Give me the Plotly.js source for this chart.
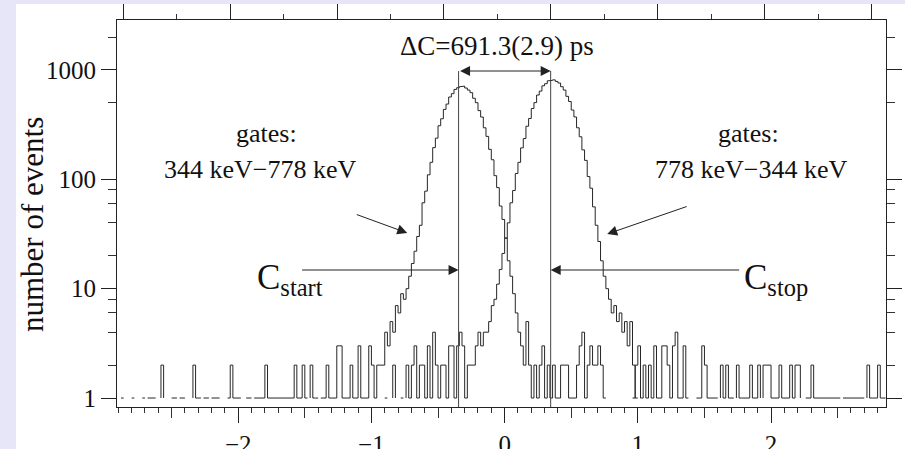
<!DOCTYPE html>
<html>
<head>
<meta charset="utf-8">
<script src="https://cdn.plot.ly/plotly-3.0.1.min.js"></script>
<style>html,body{margin:0;padding:0;background:#e8e8f8;}#chart{width:905px;height:449px;}</style>
</head>
<body>
<div id="chart"></div>
<script>
// ---- data (bin width 0.02 ns) ----
const binWidth = 0.02;
// gate 344 keV - 778 keV (left peak), bins starting at -2.90 ns
const startA = -2.90;
const countsA = [
  0,1,0,0,0,1,0,0,0,1,
  0,1,1,1,0,0,2,0,0,0,
  1,1,0,1,1,0,0,0,2,1,
  1,0,1,1,0,1,1,1,0,0,
  0,1,2,1,1,1,0,0,1,1,
  0,1,1,1,1,2,1,1,1,1,
  1,1,1,1,1,1,2,1,1,2,
  1,0,2,1,1,0,1,1,2,1,
  1,1,3,3,1,1,1,2,1,1,
  3,1,1,1,3,2,1,2,2,2,
  4,3,5,4,7,6,9,8,10,13,
  17,22,30,38,61,78,110,143,195,238,
  309,358,436,488,566,607,664,688,702,712,
  684,655,620,551,502,425,371,296,247,188,
  151,108,84,57,43,29,18,13,9,6,
  4,3,2,5,2,1,2,1,2,3,
  1,2,1,2,1,1,2,2,2,1,
  1,1,2,3,4,1,2,3,2,2,
  3,2,1,0,0,0,0,0,0,0,
  0,0,0,1,2,3,1,2,1,2,
  1,3,1,1,3,3,2,1,3,4,
  1,1,3,1,0,0,0,1,1,3,
  2,1,1,1,1,0,2,1,2,1,
  1,0,2,1,1,1,1,2,1,1,
  2,0,2,2,2,1,1,1,2,1,
  1,1,2,1,2,2,0,0,1,1,
  2,1,1,1,1,1,1,1,1,1,
  1,0,1,1,1,1,1,1,1,1,
  0,2,1,1,1,2,1,1,0,0
];
// gate 778 keV - 344 keV (right peak), bins starting at -0.90 ns
const startB = -0.90;
const countsB = [
  1,0,0,2,0,0,1,0,2,1,
  2,3,1,2,2,1,3,1,4,2,
  1,2,2,1,3,3,1,3,4,3,
  1,2,2,2,3,4,3,4,4,5,
  7,8,11,15,21,29,40,61,79,113,
  143,194,236,306,360,444,503,590,641,716,
  749,795,803,812,786,760,703,655,574,515,
  430,372,296,245,186,149,106,83,56,38,
  27,18,13,10,8,6,7,5,6,4,
  5,3,5,2,1,0,0,0,0,0
];
const markerTimes = [-0.3456, 0.3456];
const yTickVals = [1, 10, 100, 1000];
const yTickText = ['1', '10', '100', '1000'];
const yMinorVals = [2, 4, 6, 8, 20, 40, 60, 80, 500, 2000];

function stepPath(start, w, counts) {
  const xs = [], ys = [];
  const n = counts.length;
  for (let i = 0; i < n; i++) {
    const c = counts[i];
    if (!(c > 0)) continue;
    const x0 = start + w * i, x1 = start + w * (i + 1);
    const prev = i > 0 ? counts[i - 1] : 0;
    const next = i < n - 1 ? counts[i + 1] : 0;
    if (!(prev > 0)) { xs.push(x0); ys.push(1); }
    xs.push(x0); ys.push(c); xs.push(x1); ys.push(c);
    if (!(next > 0)) { xs.push(x1); ys.push(1); xs.push(null); ys.push(null); }
  }
  return {xs, ys};
}

const pA = stepPath(startA, binWidth, countsA);
const pB = stepPath(startB, binWidth, countsB);
const lineStyle = {color: '#262626', width: 1};
const serif = 'Liberation Serif, Times New Roman, serif';

const traces = [
  {x: pA.xs, y: pA.ys, type: 'scatter', mode: 'lines', line: lineStyle, connectgaps: false, hoverinfo: 'skip', showlegend: false},
  {x: pB.xs, y: pB.ys, type: 'scatter', mode: 'lines', line: lineStyle, connectgaps: false, hoverinfo: 'skip', showlegend: false},
  {x: [], y: [], type: 'scatter', xaxis: 'x2', yaxis: 'y', showlegend: false, hoverinfo: 'skip'},
  {x: [], y: [], type: 'scatter', xaxis: 'x3', yaxis: 'y', showlegend: false, hoverinfo: 'skip'}
];

const L = 117, R = 886, T = 20, B = 407;
const py = p => (B - p) / (B - T);
const px = p => (p - L) / (R - L);

const xr = [-2.91, 2.863];
const txt = (text, x, yPix, size, xref) => ({
  text: text, x: x, y: py(yPix), xref: xref || 'x', yref: 'paper', showarrow: false,
  xanchor: 'center', yanchor: 'middle', font: {family: serif, size: size, color: '#111'}
});
const arrow = (x, yPix, ax, ay, extra) => Object.assign({
  text: '', x: x, y: py(yPix), xref: 'x', yref: 'paper', ax: ax, ay: ay, showarrow: true,
  arrowhead: 2, arrowsize: 2, arrowwidth: 1, arrowcolor: '#222', standoff: 0, startstandoff: 0
}, extra || {});

const layout = {
  width: 905, height: 449,
  margin: {l: L, r: 905 - R, t: T, b: 449 - B, pad: 0},
  paper_bgcolor: '#e6e6f8',
  plot_bgcolor: '#ffffff',
  showlegend: false,
  font: {family: serif, color: '#111', size: 25},
  xaxis: {
    range: xr, showgrid: false, zeroline: false, showline: true, linecolor: '#222', linewidth: 1, mirror: true,
    ticks: 'outside', ticklen: 15, tickwidth: 1, tickcolor: '#222', dtick: 1, tick0: 0,
    tickfont: {family: serif, size: 25, color: '#111'},
    minor: {dtick: 0.1, tick0: 0, ticklen: 5, tickcolor: '#333', ticks: 'outside', showgrid: false}
  },
  xaxis2: {
    overlaying: 'x', side: 'top', anchor: 'y', range: [-0.058, 7.134], showgrid: false, zeroline: false, showline: false,
    ticks: 'outside', ticklen: 15, tickcolor: '#222', dtick: 1, tick0: 0, showticklabels: false,
    minor: {dtick: 0.5, tick0: 0, ticklen: 5, tickcolor: '#333', ticks: 'outside', showgrid: false}
  },
  xaxis3: {
    overlaying: 'x', side: 'bottom', anchor: 'y', range: xr, showgrid: false, zeroline: false, showline: false,
    ticks: 'outside', ticklen: 10, tickcolor: '#333', tickvals: [-2.5, -1.5, -0.5, 0.5, 1.5, 2.5], showticklabels: false
  },
  yaxis: {
    type: 'log', range: [-0.082, 3.457], showgrid: false, zeroline: false, showline: true, linecolor: '#222', linewidth: 1,
    mirror: 'ticks', ticks: 'outside', ticklen: 15, tickcolor: '#222', tickvals: yTickVals, ticktext: yTickText,
    tickfont: {family: serif, size: 25, color: '#111'},
    minor: {tickvals: yMinorVals, ticklen: 8, tickcolor: '#333', ticks: 'outside', showgrid: false}
  },
  shapes: [
    {type: 'rect', xref: 'paper', yref: 'paper', x0: px(16), x1: 1.05, y0: -0.2, y1: py(4), fillcolor: '#ffffff', line: {width: 0}, layer: 'below'},
    {type: 'line', xref: 'x', yref: 'paper', x0: markerTimes[0], x1: markerTimes[0], y0: 0, y1: py(71), line: {color: '#444', width: 1}},
    {type: 'line', xref: 'x', yref: 'paper', x0: markerTimes[1], x1: markerTimes[1], y0: 0, y1: py(71), line: {color: '#444', width: 1}}
  ],
  annotations: [
    Object.assign(txt('number of events', px(32), 225, 31, 'paper'), {textangle: -90}),
    txt('ΔC=691.3(2.9) ps', -0.06, 46, 27),
    arrow(markerTimes[1], 71, markerTimes[0], 0, {axref: 'x', arrowside: 'end+start'}),
    txt('gates:', -1.788, 133, 26),
    txt('344 keV−778 keV', -1.833, 169, 26),
    txt('gates:', 1.827, 133, 26),
    txt('778 keV−344 keV', 1.857, 169, 26),
    arrow(-0.731, 233, -52, -19),
    arrow(0.770, 234, 81, -28),
    txt('C<sub>start</sub>', -1.61, 279, 35),
    txt('C<sub>stop</sub>', 2.04, 279, 35),
    arrow(markerTimes[0], 270, -158, 0),
    arrow(markerTimes[1], 270, 190, 0)
  ]
};

Plotly.newPlot('chart', traces, layout, {staticPlot: true, displayModeBar: false});
</script>
</body>
</html>
